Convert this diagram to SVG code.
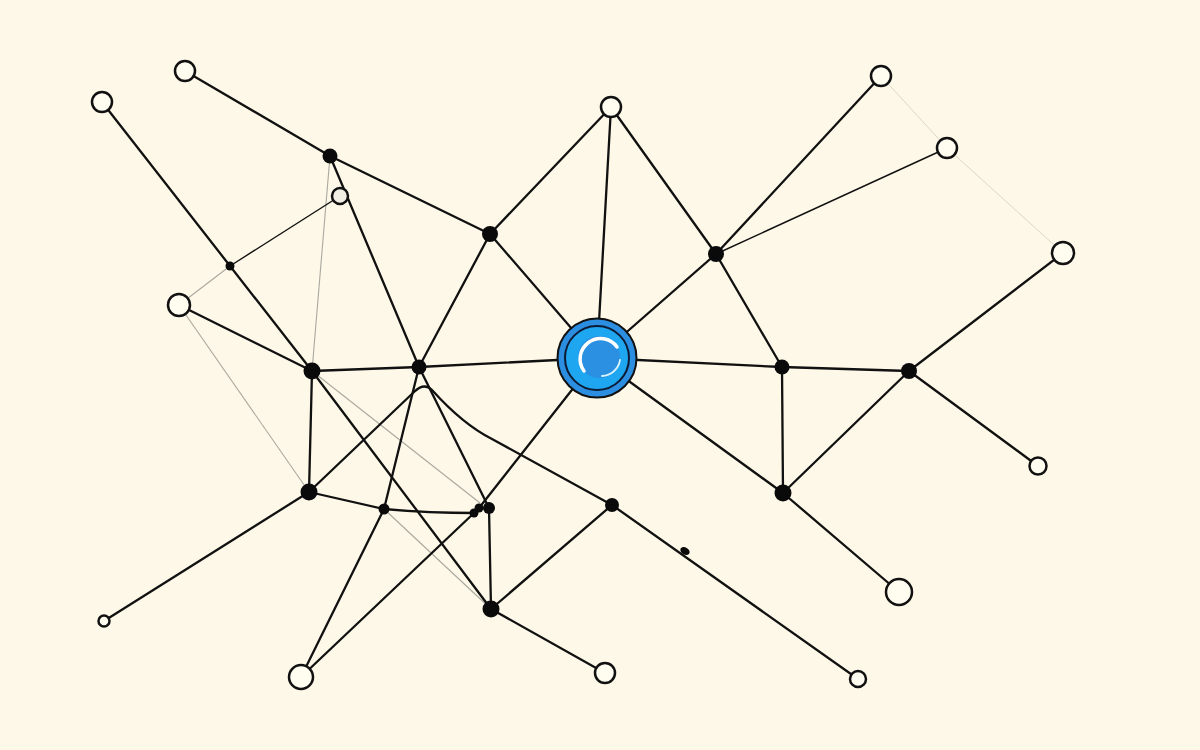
<svg xmlns="http://www.w3.org/2000/svg" width="1200" height="750" viewBox="0 0 1200 750">
<style>
.e{stroke:#111;stroke-width:2.3;fill:none;stroke-linecap:round}
.t{stroke:#111;stroke-width:1.4;fill:none}
.g{stroke:#aaa9a0;stroke-width:1.1;fill:none}
.gl{stroke:#dcd8c8;stroke-width:1;fill:none}
.o{fill:#fffcf0;stroke:#111;stroke-width:2.5}
.f{fill:#0a0a0a}
</style>
<rect width="1200" height="750" fill="#fdf8e7"/>
<g id="connectors">
<line class="g" x1="330" y1="156" x2="312" y2="371"/>
<line class="g" x1="230" y1="266" x2="179" y2="305"/>
<line class="g" x1="179" y1="305" x2="309" y2="492"/>
<line class="g" x1="312" y1="371" x2="480" y2="503"/>
<line class="g" x1="384" y1="509" x2="491" y2="609"/>
<line class="gl" x1="881" y1="76" x2="947" y2="148"/>
<line class="gl" x1="947" y1="148" x2="1063" y2="253"/>
<line class="e" x1="102" y1="102" x2="312" y2="371"/>
<line class="e" x1="312" y1="371" x2="491" y2="609"/>
<line class="e" x1="185" y1="71" x2="330" y2="156"/>
<line class="e" x1="330" y1="156" x2="490" y2="234"/>
<line class="e" x1="330" y1="156" x2="419" y2="367"/>
<line class="t" x1="340" y1="196" x2="230" y2="266"/>
<line class="e" x1="179" y1="305" x2="312" y2="371"/>
<line class="e" x1="312" y1="371" x2="419" y2="367"/>
<line class="e" x1="312" y1="371" x2="309" y2="492"/>
<line class="e" x1="419" y1="367" x2="597" y2="358"/>
<line class="e" x1="419" y1="367" x2="490" y2="234"/>
<line class="e" x1="490" y1="234" x2="597" y2="358"/>
<line class="e" x1="490" y1="234" x2="611" y2="107"/>
<line class="e" x1="611" y1="107" x2="597" y2="358"/>
<line class="e" x1="611" y1="107" x2="716" y2="254"/>
<line class="e" x1="716" y1="254" x2="881" y2="76"/>
<line class="t" x1="716" y1="254" x2="947" y2="148"/>
<line class="e" x1="716" y1="254" x2="597" y2="358"/>
<line class="e" x1="716" y1="254" x2="782" y2="367"/>
<line class="e" x1="597" y1="358" x2="782" y2="367"/>
<line class="e" x1="782" y1="367" x2="909" y2="371"/>
<line class="e" x1="782" y1="367" x2="783" y2="493"/>
<line class="e" x1="1063" y1="253" x2="909" y2="371"/>
<line class="e" x1="909" y1="371" x2="1038" y2="466"/>
<line class="e" x1="909" y1="371" x2="783" y2="493"/>
<line class="e" x1="597" y1="358" x2="783" y2="493"/>
<line class="e" x1="783" y1="493" x2="899" y2="592"/>
<line class="e" x1="597" y1="358" x2="479" y2="508"/>
<line class="e" x1="474" y1="513" x2="301" y2="677"/>
<line class="e" x1="309" y1="492" x2="384" y2="509"/>
<path class="e" d="M384,509 Q430,513 474,513"/>
<line class="e" x1="384" y1="509" x2="419" y2="367"/>
<line class="e" x1="384" y1="509" x2="301" y2="677"/>
<line class="e" x1="419" y1="367" x2="489" y2="508"/>
<line class="e" x1="489" y1="508" x2="491" y2="609"/>
<line class="e" x1="491" y1="609" x2="612" y2="505"/>
<line class="e" x1="491" y1="609" x2="605" y2="673"/>
<line class="e" x1="612" y1="505" x2="858" y2="679"/>
<line class="e" x1="309" y1="492" x2="104" y2="621"/>
<path class="e" d="M309,492 L414,392 Q424,382 432,390 C450,410 470,428 492,439 L612,505"/>
</g>
<g id="nA"><circle class="o" cx="102" cy="102" r="10"/></g>
<g id="nB"><circle class="o" cx="185" cy="71" r="10"/></g>
<g id="nC"><circle class="f" cx="330" cy="156" r="7.5"/></g>
<g id="nD"><circle cx="340" cy="196" r="8" fill="#f1efe4" stroke="#111" stroke-width="2.5"/></g>
<g id="nE"><circle class="f" cx="230" cy="266" r="4.5"/></g>
<g id="nF"><circle class="o" cx="179" cy="305" r="11"/></g>
<g id="nG"><circle class="f" cx="312" cy="371" r="8.5"/></g>
<g id="nH"><circle class="f" cx="419" cy="367" r="7.5"/></g>
<g id="nI"><circle class="f" cx="490" cy="234" r="8"/></g>
<g id="nJ"><circle class="o" cx="611" cy="107" r="10"/></g>
<g id="nK"><circle class="f" cx="716" cy="254" r="8"/></g>
<g id="nL"><circle class="o" cx="881" cy="76" r="10"/></g>
<g id="nM"><circle class="o" cx="947" cy="148" r="10"/></g>
<g id="nN"><circle class="o" cx="1063" cy="253" r="11"/></g>
<g id="nO"><circle class="f" cx="782" cy="367" r="7.5"/></g>
<g id="nP"><circle class="f" cx="909" cy="371" r="8"/></g>
<g id="nQ"><circle class="o" cx="1038" cy="466" r="8.5"/></g>
<g id="nR"><circle class="f" cx="783" cy="493" r="8.5"/></g>
<g id="nS"><circle class="o" cx="899" cy="592" r="13"/></g>
<g id="nT"><circle class="f" cx="309" cy="492" r="8.5"/></g>
<g id="nU"><circle class="f" cx="384" cy="509" r="5.5"/></g>
<g id="nV1"><circle class="f" cx="474" cy="513" r="4.5"/></g>
<g id="nV2"><circle class="f" cx="479" cy="508" r="4.5"/></g>
<g id="nW"><circle class="f" cx="489" cy="508" r="6"/></g>
<g id="nX"><circle class="f" cx="612" cy="505" r="7"/></g>
<g id="nY"><ellipse class="f" cx="685" cy="551" rx="5" ry="3.5" transform="rotate(30 685 551)"/></g>
<g id="nZ"><circle class="o" cx="858" cy="679" r="8"/></g>
<g id="nAA"><circle class="f" cx="491" cy="609" r="8.5"/></g>
<g id="nAB"><circle class="o" cx="605" cy="673" r="10"/></g>
<g id="nAC"><circle class="o" cx="301" cy="677" r="12"/></g>
<g id="nAD"><circle class="o" cx="104" cy="621" r="5.5"/></g>
<g id="hub">
<circle cx="597" cy="358" r="39.5" fill="#2b8ee0" stroke="#111" stroke-width="2"/>
<circle cx="597" cy="358" r="32" fill="#1ea6f0" stroke="#0d1a33" stroke-width="2"/>
<circle cx="599" cy="357" r="21" fill="#2b8fe2"/>
<path d="M584,371 A19,19 0 0 1 617,347" stroke="#ffffff" stroke-width="3.5" fill="none" stroke-linecap="round"/>
<path d="M620,360 A19,19 0 0 1 602,376" stroke="#d9f2ff" stroke-width="1.8" fill="none" stroke-linecap="round"/>
</g>
</svg>
